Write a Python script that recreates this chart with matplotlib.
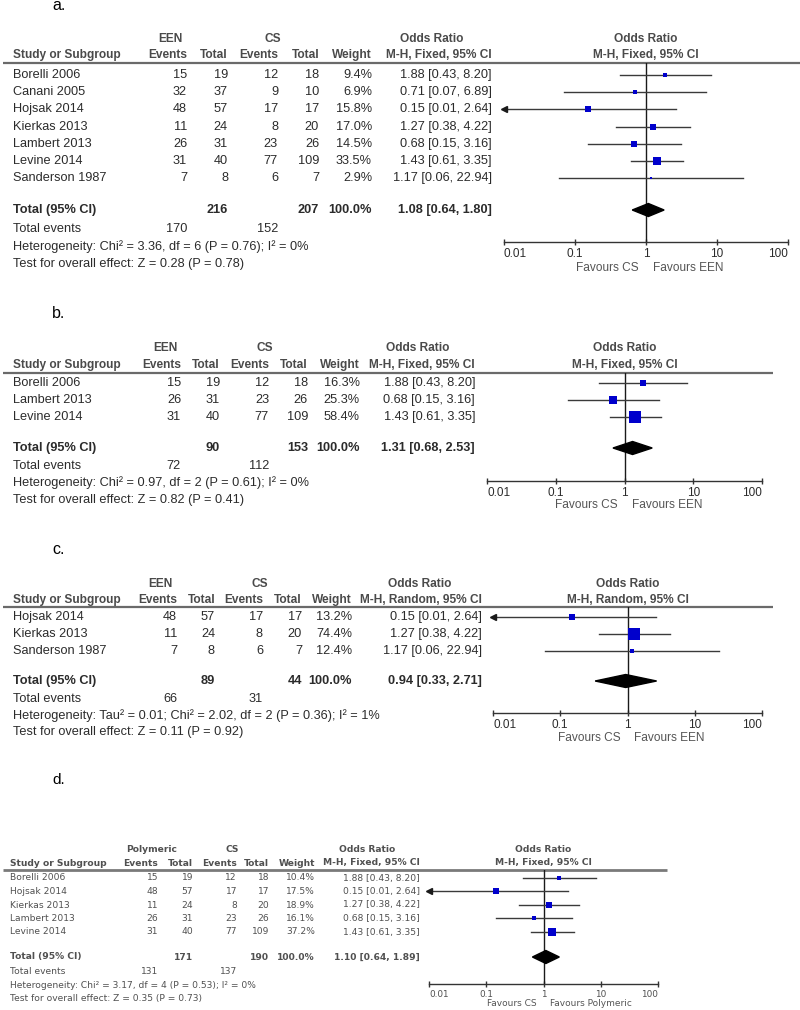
#!/usr/bin/env python3
"""Forest plots a-d: enteral nutrition vs corticosteroids (odds ratios)."""

import math

import matplotlib
matplotlib.use("Agg")
import matplotlib.pyplot as plt
from matplotlib.ticker import NullLocator

W, H = 800, 1010

# per-study numbers, reused by every panel
studies = ["Borelli 2006", "Canani 2005", "Hojsak 2014", "Kierkas 2013",
           "Lambert 2013", "Levine 2014", "Sanderson 1987"]
exp_events = [15, 32, 48, 11, 26, 31, 7]
exp_total = [19, 37, 57, 24, 31, 40, 8]
cs_events = [12, 9, 17, 8, 23, 77, 6]
cs_total = [18, 10, 17, 20, 26, 109, 7]
odds_ratio = [1.88, 0.71, 0.15, 1.27, 0.68, 1.43, 1.17]
ci_low = [0.43, 0.07, 0.01, 0.38, 0.15, 0.61, 0.06]
ci_high = [8.20, 6.89, 2.64, 4.22, 3.16, 3.35, 22.94]

axis_ticks = [0.01, 0.1, 1, 10, 100]
axis_labels = ["0.01", "0.1", "1", "10", "100"]

# a. all studies, fixed effect
a_rows = [0, 1, 2, 3, 4, 5, 6]
a_weight = [9.4, 6.9, 15.8, 17.0, 14.5, 33.5, 2.9]
a_pooled = [1.08, 0.64, 1.80]
a_het = "Heterogeneity: Chi² = 3.36, df = 6 (P = 0.76); I² = 0%"
a_test = "Test for overall effect: Z = 0.28 (P = 0.78)"

# b.
b_rows = [0, 4, 5]
b_weight = [16.3, 25.3, 58.4]
b_pooled = [1.31, 0.68, 2.53]
b_het = "Heterogeneity: Chi² = 0.97, df = 2 (P = 0.61); I² = 0%"
b_test = "Test for overall effect: Z = 0.82 (P = 0.41)"

# c. random effects
c_rows = [2, 3, 6]
c_weight = [13.2, 74.4, 12.4]
c_pooled = [0.94, 0.33, 2.71]
c_het = "Heterogeneity: Tau² = 0.01; Chi² = 2.02, df = 2 (P = 0.36); I² = 1%"
c_test = "Test for overall effect: Z = 0.11 (P = 0.92)"

# d. polymeric vs CS
d_rows = [0, 2, 3, 4, 5]
d_weight = [10.4, 17.5, 18.9, 16.1, 37.2]
d_pooled = [1.10, 0.64, 1.89]
d_het = "Heterogeneity: Chi² = 3.17, df = 4 (P = 0.53); I² = 0%"
d_test = "Test for overall effect: Z = 0.35 (P = 0.73)"

total_weight = "100.0%"

# pixel layout of each panel (y measured from the top)
BIG = dict(family="Liberation Sans", fs=9.2, hfs=8.6, tick_fs=8.5, color="#2b2b2b",
           hcolor="#4a4a4a", line_color="#6a6a6a", line_w=1.6, study_x=13, tag_fs=11.5)
SMALL = dict(family="DejaVu Sans", fs=6.6, hfs=6.6, tick_fs=6.4, color="#505050",
             hcolor="#505050", line_color="#7a7a7a", line_w=2.0, study_x=10, tag_fs=11)

layouts = [
    dict(BIG, tag_y=6, grp_y=39, hdr_y=55, line_y=63, line_end=800, row0=75, dy=17.2,
         total_y=210, events_y=229, het_y=247, test_y=264, x0=504, x1=788,
         axis_y=242, fav_y=268, cols=[187, 228, 278, 319, 372, 492],
         grp_x=[170, 273], or_x=432),
    dict(BIG, tag_y=313, grp_y=348, hdr_y=365, line_y=373, line_end=773, row0=383, dy=17,
         total_y=448, events_y=466, het_y=483, test_y=500, x0=487, x1=762,
         axis_y=481, fav_y=505, cols=[181, 220, 269, 308, 360, 475],
         grp_x=[165, 265], or_x=418),
    dict(BIG, tag_y=550, grp_y=584, hdr_y=600, line_y=607, line_end=773, row0=617, dy=17,
         total_y=681, events_y=699, het_y=716, test_y=732, x0=493, x1=762,
         axis_y=713, fav_y=738, cols=[177, 215, 263, 302, 352, 482],
         grp_x=[160, 260], or_x=420),
    dict(SMALL, tag_y=780, grp_y=849, hdr_y=863, line_y=870, line_end=667, row0=878, dy=13.5,
         total_y=957, events_y=971, het_y=986, test_y=998, x0=429, x1=658,
         axis_y=984, fav_y=1003, cols=[158, 193, 237, 269, 315, 420],
         grp_x=[152, 232], or_x=367),
]


def draw_panel(fig, tab, lay, tag, group, method, rows, weight, pooled, het, test):
    fam, fs = lay["family"], lay["fs"]

    def put(x, y, s, ha="left", bold=False, color=None, size=None):
        tab.text(x, y, s, ha=ha, va="center", family=fam, fontsize=size or fs,
                 fontweight="bold" if bold else "normal", color=color or lay["color"])

    def head(x, y, s, ha="center"):
        put(x, y, s, ha=ha, bold=True, color=lay["hcolor"], size=lay["hfs"])

    x_one = (lay["x0"] + lay["x1"]) / 2
    c = lay["cols"]

    tab.text(52, lay["tag_y"], tag, ha="left", va="center", family="Liberation Sans",
             fontsize=lay["tag_fs"], color="black")

    # header
    head(lay["grp_x"][0], lay["grp_y"], group)
    head(lay["grp_x"][1], lay["grp_y"], "CS")
    head(lay["or_x"], lay["grp_y"], "Odds Ratio")
    head(x_one, lay["grp_y"], "Odds Ratio")
    y = lay["hdr_y"]
    head(lay["study_x"], y, "Study or Subgroup", ha="left")
    for x, s in zip(c[:5], ["Events", "Total", "Events", "Total", "Weight"]):
        head(x, y, s, ha="right")
    head(c[5], y, f"M-H, {method}, 95% CI", ha="right")
    head(x_one, y, f"M-H, {method}, 95% CI")
    tab.plot([3, lay["line_end"]], [lay["line_y"]] * 2, color=lay["line_color"],
             lw=lay["line_w"], solid_capstyle="butt")

    # study rows
    for k, i in enumerate(rows):
        y = lay["row0"] + k * lay["dy"]
        put(lay["study_x"], y, studies[i])
        vals = [exp_events[i], exp_total[i], cs_events[i], cs_total[i]]
        for x, v in zip(c[:4], vals):
            put(x, y, str(v), ha="right")
        put(c[4], y, f"{weight[k]:.1f}%", ha="right")
        put(c[5], y, f"{odds_ratio[i]:.2f} [{ci_low[i]:.2f}, {ci_high[i]:.2f}]", ha="right")

    # totals
    y = lay["total_y"]
    put(lay["study_x"], y, "Total (95% CI)", bold=True)
    put(c[1], y, str(sum(exp_total[i] for i in rows)), ha="right", bold=True)
    put(c[3], y, str(sum(cs_total[i] for i in rows)), ha="right", bold=True)
    put(c[4], y, total_weight, ha="right", bold=True)
    put(c[5], y, f"{pooled[0]:.2f} [{pooled[1]:.2f}, {pooled[2]:.2f}]", ha="right", bold=True)
    y = lay["events_y"]
    put(lay["study_x"], y, "Total events")
    put(c[0], y, str(sum(exp_events[i] for i in rows)), ha="right")
    put(c[2], y, str(sum(cs_events[i] for i in rows)), ha="right")
    put(lay["study_x"], lay["het_y"], het)
    put(lay["study_x"], lay["test_y"], test)

    # forest plot
    x0, x1 = lay["x0"], lay["x1"]
    ytop, ybot = lay["line_y"], lay["axis_y"]
    ax = fig.add_axes([x0 / W, 1 - ybot / H, (x1 - x0) / W, (ybot - ytop) / H])
    ax.set_xscale("log")
    ax.set_xlim(0.01, 100)
    ax.set_ylim(ybot, ytop)
    ax.patch.set_alpha(0)
    for s in ("left", "right", "top"):
        ax.spines[s].set_visible(False)
    ax.spines["bottom"].set_color("#333333")
    ax.spines["bottom"].set_linewidth(1)
    ax.set_yticks([])
    ax.set_xticks(axis_ticks, axis_labels)
    ax.xaxis.set_minor_locator(NullLocator())
    ax.tick_params(axis="x", direction="inout", length=5, width=1, color="#333333",
                   labelcolor=lay["color"], labelsize=lay["tick_fs"], pad=1.5)
    labels = ax.get_xticklabels()
    for lbl in labels:
        lbl.set_family(fam)
    labels[0].set_ha("left")
    labels[-1].set_ha("right")

    ax.axvline(1, color="#1a1a1a", lw=1)
    ppd = (x1 - x0) / 4
    for k, i in enumerate(rows):
        y = lay["row0"] + k * lay["dy"]
        lo = max(ci_low[i], 0.01)
        ax.plot([lo, ci_high[i]], [y, y], color="#3a3a3a", lw=1)
        if ci_low[i] <= 0.01:
            ax.plot(0.01, y, marker="<", ms=4, color="#1a1a1a", clip_on=False)
        side = 0.021 * ppd * math.sqrt(weight[k])
        ax.scatter(odds_ratio[i], y, marker="s", s=(side * 0.72) ** 2,
                   color="#0000cc", linewidths=0, zorder=3)
    est, lo, hi = pooled
    ty = lay["total_y"]
    ax.fill([lo, est, hi, est], [ty, ty - 6.5, ty, ty + 6.5], color="black", zorder=3)

    fav_fs = lay["tick_fs"] + 0.1
    tab.text(x_one - 7, lay["fav_y"], "Favours CS", ha="right", va="center",
             family=fam, fontsize=fav_fs, color="#555555")
    tab.text(x_one + 7, lay["fav_y"], f"Favours {group}", ha="left", va="center",
             family=fam, fontsize=fav_fs, color="#555555")


def main() -> int:
    fig = plt.figure(figsize=(W / 100, H / 100), dpi=100)
    fig.patch.set_facecolor("white")
    tab = fig.add_axes([0, 0, 1, 1])
    tab.set_xlim(0, W)
    tab.set_ylim(H, 0)
    tab.axis("off")

    panels = [
        ("a.", "EEN", "Fixed", a_rows, a_weight, a_pooled, a_het, a_test),
        ("b.", "EEN", "Fixed", b_rows, b_weight, b_pooled, b_het, b_test),
        ("c.", "EEN", "Random", c_rows, c_weight, c_pooled, c_het, c_test),
        ("d.", "Polymeric", "Fixed", d_rows, d_weight, d_pooled, d_het, d_test),
    ]
    for lay, p in zip(layouts, panels):
        draw_panel(fig, tab, lay, *p)

    fig.savefig("out.png", dpi=100)
    return 0


if __name__ == "__main__":
    raise SystemExit(main())
